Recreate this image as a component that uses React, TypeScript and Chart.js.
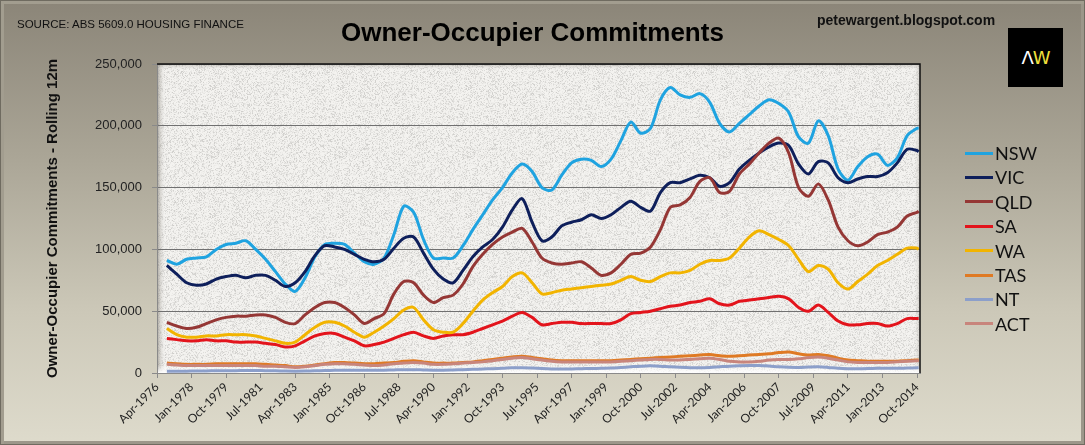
import { useEffect, useRef } from 'react';
import { Chart, registerables } from 'chart.js';

Chart.register(...registerables);

// half-yearly samples (values in thousands)
const sampleDates = [
  'Oct-1976',
  'Apr-1977', 'Oct-1977', 'Apr-1978', 'Oct-1978', 'Apr-1979', 'Oct-1979', 'Apr-1980', 'Oct-1980',
  'Apr-1981', 'Oct-1981', 'Apr-1982', 'Oct-1982', 'Apr-1983', 'Oct-1983', 'Apr-1984', 'Oct-1984',
  'Apr-1985', 'Oct-1985', 'Apr-1986', 'Oct-1986', 'Apr-1987', 'Oct-1987', 'Apr-1988', 'Oct-1988',
  'Apr-1989', 'Oct-1989', 'Apr-1990', 'Oct-1990', 'Apr-1991', 'Oct-1991', 'Apr-1992', 'Oct-1992',
  'Apr-1993', 'Oct-1993', 'Apr-1994', 'Oct-1994', 'Apr-1995', 'Oct-1995', 'Apr-1996', 'Oct-1996',
  'Apr-1997', 'Oct-1997', 'Apr-1998', 'Oct-1998', 'Apr-1999', 'Oct-1999', 'Apr-2000', 'Oct-2000',
  'Apr-2001', 'Oct-2001', 'Apr-2002', 'Oct-2002', 'Apr-2003', 'Oct-2003', 'Apr-2004', 'Oct-2004',
  'Apr-2005', 'Oct-2005', 'Apr-2006', 'Oct-2006', 'Apr-2007', 'Oct-2007', 'Apr-2008', 'Oct-2008',
  'Apr-2009', 'Oct-2009', 'Apr-2010', 'Oct-2010', 'Apr-2011', 'Oct-2011', 'Apr-2012', 'Oct-2012',
  'Apr-2013', 'Oct-2013', 'Apr-2014', 'Oct-2014',
  'Nov-2014',
];

const tickLabels = [
  'Apr-1976', 'Jan-1978', 'Oct-1979', 'Jul-1981', 'Apr-1983', 'Jan-1985', 'Oct-1986', 'Jul-1988',
  'Apr-1990', 'Jan-1992', 'Oct-1993', 'Jul-1995', 'Apr-1997', 'Jan-1999', 'Oct-2000', 'Jul-2002',
  'Apr-2004', 'Jan-2006', 'Oct-2007', 'Jul-2009', 'Apr-2011', 'Jan-2013', 'Oct-2014',
];

const nsw = [
  91, 88, 92, 93, 94, 100, 104, 105, 107, 100,
  92, 82, 72, 66, 77, 94, 104, 105, 104, 97,
  90, 88, 93, 112, 135, 130, 108, 93, 93, 93,
  103, 116, 128, 140, 150, 162, 169, 163, 150, 148,
  160, 170, 173, 172, 167, 173, 188, 203, 194, 198,
  221, 231, 225, 223, 226, 219, 202, 195, 202, 209,
  216, 221, 218, 211, 191, 186, 204, 192, 165, 156,
  167, 175, 177, 168, 174, 192, 198, 198,
];
const vic = [
  87, 80, 73, 71, 72, 76, 78, 79, 77, 79,
  79, 75, 70, 73, 82, 95, 103, 102, 100, 96,
  92, 90, 92, 101, 109, 110, 97, 84, 76, 73,
  83, 94, 102, 108, 118, 132, 141, 122, 107, 110,
  119, 122, 124, 128, 125, 128, 134, 139, 134, 131,
  146, 154, 154, 157, 160, 158, 151, 154, 165, 172,
  178, 183, 186, 184, 169, 161, 171, 170, 158, 154,
  157, 159, 159, 162, 170, 181, 180, 179,
];
const qld = [
  41, 38, 36, 37, 40, 43, 45, 46, 46, 47,
  47, 45, 41, 40, 47, 53, 57, 57, 53, 47,
  40, 44, 48, 64, 74, 73, 63, 57, 61, 63,
  72, 86, 96, 104, 110, 114, 117, 106, 93, 89,
  88, 89, 90, 85, 79, 81, 88, 96, 97, 102,
  116, 134, 136, 142, 155, 158, 146, 147, 161, 169,
  178, 186, 190, 178, 150, 143, 153, 140, 118, 107,
  103, 106, 112, 114, 118, 127, 130, 131,
];
const sa = [
  28, 27, 26, 26, 27, 26, 26, 25, 25, 25,
  24, 23, 21, 22, 26, 30, 32, 32, 29, 26,
  22, 23, 25, 28, 31, 33, 30, 28, 30, 31,
  31, 33, 36, 39, 42, 46, 49, 45, 39, 40,
  41, 41, 40, 40, 40, 40, 43, 48, 49, 50,
  52, 54, 55, 57, 58, 60, 56, 55, 58, 59,
  60, 61, 62, 60, 53, 50, 55, 49, 42, 39,
  39, 40, 40, 38, 40, 44, 44, 44,
];
const wa = [
  36, 31, 29, 29, 30, 30, 31, 31, 31, 30,
  28, 26, 24, 25, 31, 37, 41, 41, 38, 33,
  29, 33, 38, 44, 51, 53, 43, 35, 33, 33,
  40, 50, 59, 65, 70, 78, 81, 73, 64, 65,
  67, 68, 69, 70, 71, 72, 75, 78, 75, 74,
  78, 81, 81, 83, 88, 91, 91, 93, 101, 110,
  115, 112, 108, 103, 92, 82, 87, 84, 73, 68,
  74, 80, 87, 91, 96, 101, 101, 100,
];
const tas = [
  8, 7.5, 7, 7, 7, 7.5, 7.5, 7.5, 7.5, 7.5,
  7, 6.5, 6, 5, 5.5, 6.5, 7.5, 8.5, 8.5, 8,
  7.5, 7.5, 8, 8.5, 9.5, 10, 9, 8, 8, 8,
  8.5, 9, 10, 11, 12, 13, 13.5, 12.5, 11.5, 10.5,
  10, 10, 10, 10, 10, 10, 10.5, 11, 11.5, 12,
  12.5, 13, 13.5, 14, 14.5, 15, 14, 13.5, 14, 14.5,
  15, 15.5, 16.5, 17, 15.5, 14.5, 15, 14, 12, 10.5,
  10, 9.5, 9.5, 9.5, 9.5, 10, 10.5, 10.5,
];
const nt = [
  1.5, 1.5, 1.5, 1.6, 1.7, 1.8, 1.8, 1.9, 2, 2,
  1.9, 1.8, 1.6, 1.5, 1.6, 1.8, 2, 2.2, 2.3, 2.3,
  2.2, 2.2, 2.3, 2.5, 2.7, 2.7, 2.5, 2.3, 2.3, 2.5,
  2.7, 3, 3.2, 3.5, 3.8, 4.2, 4.3, 4, 3.6, 3.3,
  3.2, 3.3, 3.5, 3.6, 3.8, 4, 4.5, 5, 5.5, 5.8,
  5.5, 5, 4.6, 4.3, 4.2, 4.5, 5, 5.5, 5.8, 6,
  6, 5.6, 5, 4.6, 4.5, 4.8, 5, 4.5, 3.8, 3.5,
  3.5, 3.6, 3.8, 3.8, 3.8, 4, 4.2, 4.2,
];
const act = [
  7, 6.5, 6, 6, 6, 6, 6, 6, 6, 6,
  5.5, 5.5, 5, 4.5, 5, 6, 7, 7.5, 7.5, 7,
  6.5, 6, 6.5, 7.5, 8, 8.5, 8, 7, 7, 7.5,
  8, 8.5, 9, 10, 11, 12, 12.5, 11.5, 10.5, 9.5,
  9, 9, 9, 9, 9, 9, 9.5, 10, 10.5, 11,
  11, 10.5, 10.5, 11, 11.5, 12, 11, 9.5, 9, 9,
  9.5, 10.5, 11, 11, 11.5, 12.5, 13, 12, 10.5, 9,
  8.5, 8.5, 8.5, 8.5, 9, 9.5, 10, 10,
];

const seriesNames = ['NSW', 'VIC', 'QLD', 'SA', 'WA', 'TAS', 'NT', 'ACT'];
const seriesColors = ['#1fa3e0', '#0e1f5b', '#953735', '#e3141c', '#f2b400', '#df7a24', '#8c9fca', '#c8857c'];
const seriesValues = [nsw, vic, qld, sa, wa, tas, nt, act];

const monthIndex: Record<string, number> = {
  Jan: 0, Feb: 1, Mar: 2, Apr: 3, May: 4, Jun: 5, Jul: 6, Aug: 7, Sep: 8, Oct: 9, Nov: 10, Dec: 11,
};

function toYear(label: string) {
  const [m, y] = label.split('-');
  return Number(y) + monthIndex[m] / 12;
}

// speckled stone texture for the plot area (deterministic hash, decoration only)
function makeGranite() {
  const size = 128;
  const c = document.createElement('canvas');
  c.width = size;
  c.height = size;
  const g = c.getContext('2d')!;
  const img = g.createImageData(size, size);
  for (let y = 0; y < size; y++) {
    for (let x = 0; x < size; x++) {
      let h = Math.imul(x * 73856093 ^ y * 19349663, 1274126177);
      h ^= h >>> 13;
      h = Math.imul(h, 2246822519);
      h ^= h >>> 16;
      const n = ((h >>> 0) % 1000) / 1000;
      const v = 244 - n * n * n * 38;
      const i = (y * size + x) * 4;
      img.data[i] = v;
      img.data[i + 1] = v - 1;
      img.data[i + 2] = v - 4;
      img.data[i + 3] = 255;
    }
  }
  g.putImageData(img, 0, 0);
  return c;
}

export default function App() {
  const canvasRef = useRef<HTMLCanvasElement>(null);
  const chartRef = useRef<Chart | null>(null);

  useEffect(() => {
    document.body.style.margin = '0';
    if (!canvasRef.current) return;
    if (chartRef.current) chartRef.current.destroy();
    const ctx = canvasRef.current.getContext('2d');
    if (!ctx) return;

    const granite = ctx.createPattern(makeGranite(), 'repeat');

    const plotBackground = {
      id: 'plotBackground',
      beforeDraw(chart: Chart) {
        const { ctx: c, chartArea: a } = chart;
        c.save();
        c.fillStyle = granite || '#e8e6e2';
        c.fillRect(a.left, a.top, a.right - a.left, a.bottom - a.top);
        const bevel = (x0: number, y0: number, x1: number, y1: number, col: string) => {
          const gr = c.createLinearGradient(x0, y0, x1, y1);
          gr.addColorStop(0, col);
          gr.addColorStop(1, 'rgba(255,255,255,0)');
          c.fillStyle = gr;
          c.fillRect(Math.min(x0, x1), Math.min(y0, y1), Math.abs(x1 - x0) || a.right - a.left, Math.abs(y1 - y0) || a.bottom - a.top);
        };
        bevel(a.left, a.top, a.left + 9, a.top, 'rgba(120,114,102,0.6)');
        bevel(a.left, a.top, a.left, a.top + 7, 'rgba(120,114,102,0.35)');
        bevel(a.right, a.top, a.right - 7, a.top, 'rgba(140,134,122,0.35)');
        bevel(a.left, a.bottom, a.left, a.bottom - 8, 'rgba(255,255,255,0.95)');
        c.restore();
      },
      afterDraw(chart: Chart) {
        const { ctx: c, chartArea: a } = chart;
        c.save();
        c.strokeStyle = '#111';
        c.lineWidth = 1.5;
        c.beginPath();
        c.moveTo(a.left, a.top);
        c.lineTo(a.right, a.top);
        c.lineTo(a.right, a.bottom);
        c.stroke();
        c.restore();
      },
    };

    chartRef.current = new Chart(ctx, {
      type: 'line',
      data: {
        datasets: seriesNames.map((name, i) => ({
          label: name,
          data: sampleDates.map((d, j) => ({ x: toYear(d), y: seriesValues[i][j] })),
          borderColor: seriesColors[i],
          backgroundColor: seriesColors[i],
          borderWidth: 3,
          pointRadius: 0,
          tension: 0.3,
          order: seriesNames.length - 1 - i,
        })),
      },
      options: {
        responsive: false,
        animation: false,
        layout: { padding: { left: 0, top: 64, right: 165, bottom: 0 } },
        plugins: {
          legend: { display: false },
          tooltip: { enabled: false },
        },
        scales: {
          x: {
            type: 'linear',
            min: toYear('Apr-1976'),
            max: 2014.9,
            afterBuildTicks: (scale: any) => {
              scale.ticks = tickLabels.map((l) => ({ value: toYear(l) }));
            },
            afterFit: (scale: any) => {
              scale.height = 72;
            },
            grid: { drawOnChartArea: false, tickLength: 5, color: '#8a8a8a' },
            border: { color: '#8a8a8a' },
            ticks: {
              autoSkip: false,
              minRotation: 45,
              maxRotation: 45,
              padding: 2,
              color: '#222',
              font: { family: 'Lato', size: 12 },
              callback: (_v: any, i: number) => tickLabels[i],
            },
          },
          y: {
            min: 0,
            max: 250,
            afterFit: (scale: any) => {
              scale.width = 157;
            },
            grid: { color: '#707070', tickColor: '#8a8a8a', tickLength: 5 },
            border: { color: '#8a8a8a' },
            ticks: {
              stepSize: 50,
              padding: 10,
              color: '#222',
              font: { family: 'Liberation Sans', size: 13 },
              callback: (v: any) => (Number(v) * 1000).toLocaleString('en-US'),
            },
            title: {
              display: true,
              text: 'Owner-Occupier Commitments - Rolling 12m',
              color: '#111',
              font: { family: 'Liberation Sans', size: 15, weight: 'bold' },
              padding: { top: 44, bottom: 0 },
            },
          },
        },
      },
      plugins: [plotBackground],
    });

    return () => {
      if (chartRef.current) {
        chartRef.current.destroy();
        chartRef.current = null;
      }
    };
  }, []);

  return (
    <div
      style={{
        position: 'relative',
        width: 1085,
        height: 445,
        overflow: 'hidden',
        background: 'linear-gradient(180deg, #8b8578 0%, #aaa596 35%, #ccc8b8 70%, #dedbcc 100%)',
        boxShadow: 'inset 0 0 0 1px #6f6b60, inset 2px 2px 0 2px #a29d8f, inset -2px -2px 0 2px #9c978a',
        fontFamily: 'Liberation Sans, Arial, sans-serif',
      }}
    >
      <canvas ref={canvasRef} width={1085} height={445} style={{ position: 'absolute', left: 0, top: 0 }} />
      <div style={{ position: 'absolute', left: 17, top: 17, fontSize: 11.5, lineHeight: '14px', color: '#111', whiteSpace: 'nowrap' }}>
        SOURCE: ABS 5609.0 HOUSING FINANCE
      </div>
      <div style={{ position: 'absolute', left: 341, top: 19, fontSize: 26, lineHeight: '26px', fontWeight: 'bold', color: '#000', whiteSpace: 'nowrap' }}>
        Owner-Occupier Commitments
      </div>
      <div style={{ position: 'absolute', left: 817, top: 13, fontSize: 14, lineHeight: '14px', fontWeight: 'bold', color: '#111', whiteSpace: 'nowrap' }}>
        petewargent.blogspot.com
      </div>
      <div
        style={{
          position: 'absolute',
          left: 1008,
          top: 28,
          width: 55,
          height: 59,
          background: '#000',
          display: 'flex',
          alignItems: 'center',
          justifyContent: 'center',
          fontFamily: 'DejaVu Sans, sans-serif',
          fontSize: 18,
          letterSpacing: -1,
        }}
      >
        <span style={{ color: '#fff' }}>Λ</span>
        <span style={{ color: '#f0e03c' }}>W</span>
      </div>
      {seriesNames.map((name, i) => (
        <div
          key={name}
          style={{ position: 'absolute', left: 965, top: 142 + i * 24.4, height: 22, display: 'flex', alignItems: 'center' }}
        >
          <span style={{ display: 'inline-block', width: 28, height: 3, background: seriesColors[i] }} />
          <span style={{ marginLeft: 2, fontFamily: 'Lato', fontSize: 18, lineHeight: '22px', color: '#111' }}>{name}</span>
        </div>
      ))}
    </div>
  );
}
